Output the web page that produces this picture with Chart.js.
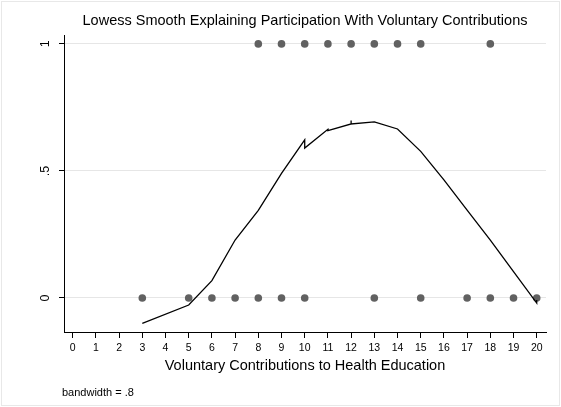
<!DOCTYPE html>
<html>
<head>
<meta charset="utf-8">
<script src="https://cdn.jsdelivr.net/npm/chart.js@4.4.0/dist/chart.umd.min.js"></script>
<style>
  html, body { margin: 0; padding: 0; background: #fff; }
  #wrap { width: 561px; height: 407px; }
</style>
</head>
<body>
<div id="wrap"><canvas id="lowessChart" width="561" height="407"></canvas></div>
<script>
// observed data - contribution amount and whether they participated (0/1)
const contributions = [8, 9, 10, 11, 12, 13, 14, 15, 18,
                       3, 5, 6, 7, 8, 9, 10, 13, 15, 17, 18, 19, 20];
const participation = [1, 1, 1, 1, 1, 1, 1, 1, 1,
                       0, 0, 0, 0, 0, 0, 0, 0, 0, 0, 0, 0, 0];

// lowess fitted values (repeated x values give the little zigzags)
const lowessX = [3, 5, 6, 7, 8, 9, 10, 10, 11, 11, 12, 12, 12, 13, 14, 15, 16, 17, 18, 19, 20, 20];
const lowessY = [-0.100, -0.028, 0.068, 0.228, 0.345, 0.490, 0.622, 0.590, 0.664, 0.659,
                 0.685, 0.698, 0.685, 0.693, 0.665, 0.577, 0.465, 0.346, 0.228, 0.104, -0.020, -0.008];

const xTicks = [0, 1, 2, 3, 4, 5, 6, 7, 8, 9, 10, 11, 12, 13, 14, 15, 16, 17, 18, 19, 20];
const yTicks = [0, 0.5, 1];
const yTickLabels = ['0', '.5', '1'];

const chartTitle = 'Lowess Smooth Explaining Participation With Voluntary Contributions';
const xTitle = 'Voluntary Contributions to Health Education';
const noteText = 'bandwidth = .8';

const FONT = '"Liberation Sans", Arial, sans-serif';

// draws the title, rotated y labels, note and outer frame
const extraText = {
    id: 'extraText',
    afterDraw(chart) {
        const ctx = chart.ctx;
        const area = chart.chartArea;
        const yScale = chart.scales.y;
        ctx.save();
        // light outer frame like stata
        ctx.strokeStyle = '#e8e8e8';
        ctx.lineWidth = 1;
        ctx.strokeRect(1.5, 1.5, 558, 404);

        ctx.fillStyle = '#000';
        ctx.font = '14.5px ' + FONT;
        ctx.textAlign = 'center';
        ctx.textBaseline = 'middle';
        ctx.fillText(chartTitle, (area.left + area.right) / 2, 21);

        // y tick labels are rotated 90 degrees
        ctx.font = '12.5px ' + FONT;
        yTicks.forEach((v, i) => {
            const py = yScale.getPixelForValue(v);
            ctx.save();
            ctx.translate(46, py);
            ctx.rotate(-Math.PI / 2);
            ctx.fillText(yTickLabels[i], 0, 0);
            ctx.restore();
        });

        ctx.font = '11px ' + FONT;
        ctx.textAlign = 'left';
        ctx.fillText(noteText, 62, 393);
        ctx.restore();
    }
};

const ctx = document.getElementById('lowessChart').getContext('2d');

new Chart(ctx, {
    type: 'scatter',
    data: {
        datasets: [
            {
                type: 'line',
                label: 'lowess',
                data: lowessX.map((x, i) => ({ x: x, y: lowessY[i] })),
                borderColor: '#000',
                borderWidth: 1.3,
                pointRadius: 0,
                tension: 0,
                fill: false,
                order: 0
            },
            {
                label: 'participation',
                data: contributions.map((x, i) => ({ x: x, y: participation[i] })),
                backgroundColor: '#616161',
                borderColor: '#616161',
                borderWidth: 0,
                pointRadius: 3.8,
                order: 1
            }
        ]
    },
    options: {
        responsive: false,
        animation: false,
        devicePixelRatio: 1,
        layout: { padding: { top: 35, right: 15, bottom: 32, left: 0 } },
        plugins: {
            legend: { display: false },
            tooltip: { enabled: false }
        },
        scales: {
            x: {
                type: 'linear',
                min: -0.375,
                max: 20.4,
                afterBuildTicks: (scale) => { scale.ticks = xTicks.map(v => ({ value: v })); },
                afterFit: (scale) => { scale.height = 43; },
                grid: {
                    drawOnChartArea: false,
                    drawTicks: true,
                    tickLength: 6,
                    tickColor: '#000'
                },
                border: { color: '#000', width: 1 },
                ticks: {
                    color: '#000',
                    font: { family: FONT, size: 10.5 },
                    padding: 4,
                    maxRotation: 0,
                    autoSkip: false
                },
                title: {
                    display: true,
                    text: xTitle,
                    color: '#000',
                    font: { family: FONT, size: 14.5 },
                    padding: { top: 2, bottom: 0 }
                }
            },
            y: {
                type: 'linear',
                min: -0.134,
                max: 1.035,
                afterBuildTicks: (scale) => { scale.ticks = yTicks.map(v => ({ value: v })); },
                afterFit: (scale) => { scale.width = 64; },
                grid: {
                    color: '#e6e6e6',
                    drawTicks: true,
                    tickLength: 5,
                    tickColor: '#000'
                },
                border: { color: '#000', width: 1 },
                ticks: { display: false }
            }
        }
    },
    plugins: [extraText]
});
</script>
</body>
</html>
